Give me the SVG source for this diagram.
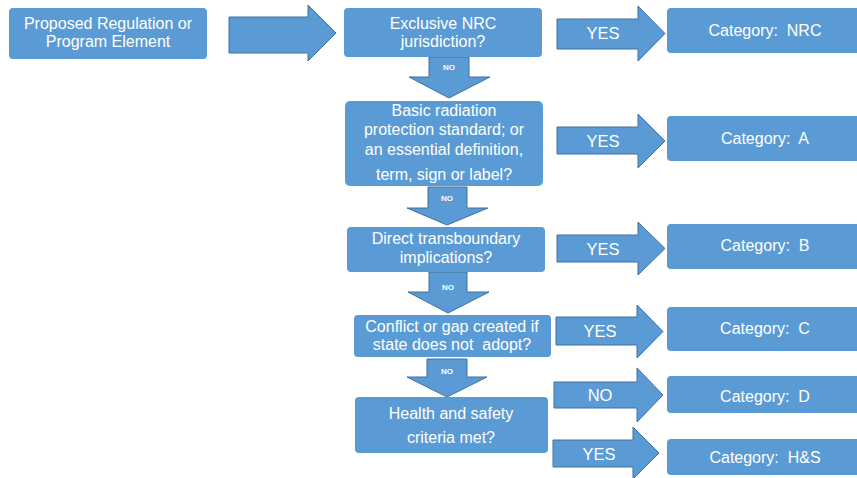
<svg xmlns="http://www.w3.org/2000/svg" width="857" height="478" viewBox="0 0 857 478">
<style>
.box{fill:#5b9bd5;}
.arr{fill:#5b9bd5;stroke:#41719c;stroke-width:1;}
.t{font-family:"Liberation Sans",Arial,sans-serif;font-size:16px;fill:#ffffff;text-anchor:middle;white-space:pre;}
.y{font-family:"Liberation Sans",Arial,sans-serif;font-size:16.5px;fill:#ffffff;text-anchor:middle;}
.n{font-family:"Liberation Sans",Arial,sans-serif;font-size:8px;font-weight:bold;fill:#ffffff;text-anchor:middle;}
</style>
<rect width="857" height="478" fill="#ffffff"/>
<g id="connectors">
<g id="arrow-start"><polygon class="arr" points="229,17 308,17 308,5 336,33 308,61 308,53 229,53"/></g>
<g id="arrow-yes-nrc"><polygon class="arr" points="557,19 638,19 638,6 665,33.5 638,61 638,49 557,49"/><text class="y" x="603" y="39">YES</text></g>
<g id="arrow-no-1"><polygon class="arr" points="429,57 469,57 469,77 490,77 449,98 409,77 429,77"/><text class="n" x="449" y="70">NO</text></g>
<g id="arrow-yes-a"><polygon class="arr" points="557,127 638,127 638,114 665,141 638,168 638,154 557,154"/><text class="y" x="603" y="147">YES</text></g>
<g id="arrow-no-2"><polygon class="arr" points="428,187 467,187 467,208 488,208 447,225 407,208 428,208"/><text class="n" x="447" y="201">NO</text></g>
<g id="arrow-yes-b"><polygon class="arr" points="557,235 638,235 638,222 665,248.5 638,275 638,262 557,262"/><text class="y" x="603" y="255">YES</text></g>
<g id="arrow-no-3"><polygon class="arr" points="429,272 467,272 467,292 489,292 448,313 408,292 429,292"/><text class="n" x="448" y="290">NO</text></g>
<g id="arrow-yes-c"><polygon class="arr" points="556,317 637,317 637,305 663,331.5 637,358 637,345 556,345"/><text class="y" x="600" y="337">YES</text></g>
<g id="arrow-no-4"><polygon class="arr" points="427,359 467,359 467,377 487,377 447,397 407,377 427,377"/><text class="n" x="447" y="374">NO</text></g>
<g id="arrow-no-d"><polygon class="arr" points="554,382 637,382 637,368 663,395 637,422 637,408 554,408"/><text class="y" x="600" y="401">NO</text></g>
<g id="arrow-yes-hs"><polygon class="arr" points="553,440 633,440 633,427 659,453 633,479 633,467 553,467"/><text class="y" x="599" y="460">YES</text></g>
</g>
<g id="node-proposed"><rect class="box" x="9" y="8" width="198" height="51" rx="4"/><text class="t" x="108" y="29">Proposed Regulation or</text><text class="t" x="108" y="47">Program Element</text></g>
<g id="node-exclusive"><rect class="box" x="344" y="8" width="198" height="49" rx="4"/><text class="t" x="443" y="29">Exclusive NRC</text><text class="t" x="443" y="47">jurisdiction?</text></g>
<g id="node-cat-nrc"><rect class="box" x="667" y="8" width="196" height="45" rx="4"/><text class="t" x="765" y="36" xml:space="preserve">Category:  NRC</text></g>
<g id="node-basic"><rect class="box" x="345" y="101" width="198" height="85" rx="5"/><text class="t" x="444" y="116">Basic radiation</text><text class="t" x="444" y="135">protection standard; or</text><text class="t" x="444" y="155">an essential definition,</text><text class="t" x="444" y="180">term, sign or label?</text></g>
<g id="node-cat-a"><rect class="box" x="667" y="116" width="196" height="45" rx="4"/><text class="t" x="765" y="144" xml:space="preserve">Category:  A</text></g>
<g id="node-direct"><rect class="box" x="347" y="227" width="198" height="45" rx="4"/><text class="t" x="446" y="244">Direct transboundary</text><text class="t" x="446" y="263">implications?</text></g>
<g id="node-cat-b"><rect class="box" x="667" y="224" width="196" height="45" rx="4"/><text class="t" x="765" y="251" xml:space="preserve">Category:  B</text></g>
<g id="node-conflict"><rect class="box" x="354" y="315" width="197" height="42" rx="4"/><text class="t" x="452" y="332">Conflict or gap created if</text><text class="t" x="452" y="350" xml:space="preserve">state does not  adopt?</text></g>
<g id="node-cat-c"><rect class="box" x="667" y="307" width="196" height="44" rx="4"/><text class="t" x="765" y="334" xml:space="preserve">Category:  C</text></g>
<g id="node-health"><rect class="box" x="355" y="397" width="193" height="56" rx="4"/><text class="t" x="451" y="419">Health and safety</text><text class="t" x="451" y="443">criteria met?</text></g>
<g id="node-cat-d"><rect class="box" x="667" y="376" width="196" height="37" rx="4"/><text class="t" x="765" y="402" xml:space="preserve">Category:  D</text></g>
<g id="node-cat-hs"><rect class="box" x="667" y="439" width="196" height="36" rx="4"/><text class="t" x="765" y="463" xml:space="preserve">Category:  H&amp;S</text></g>
</svg>
